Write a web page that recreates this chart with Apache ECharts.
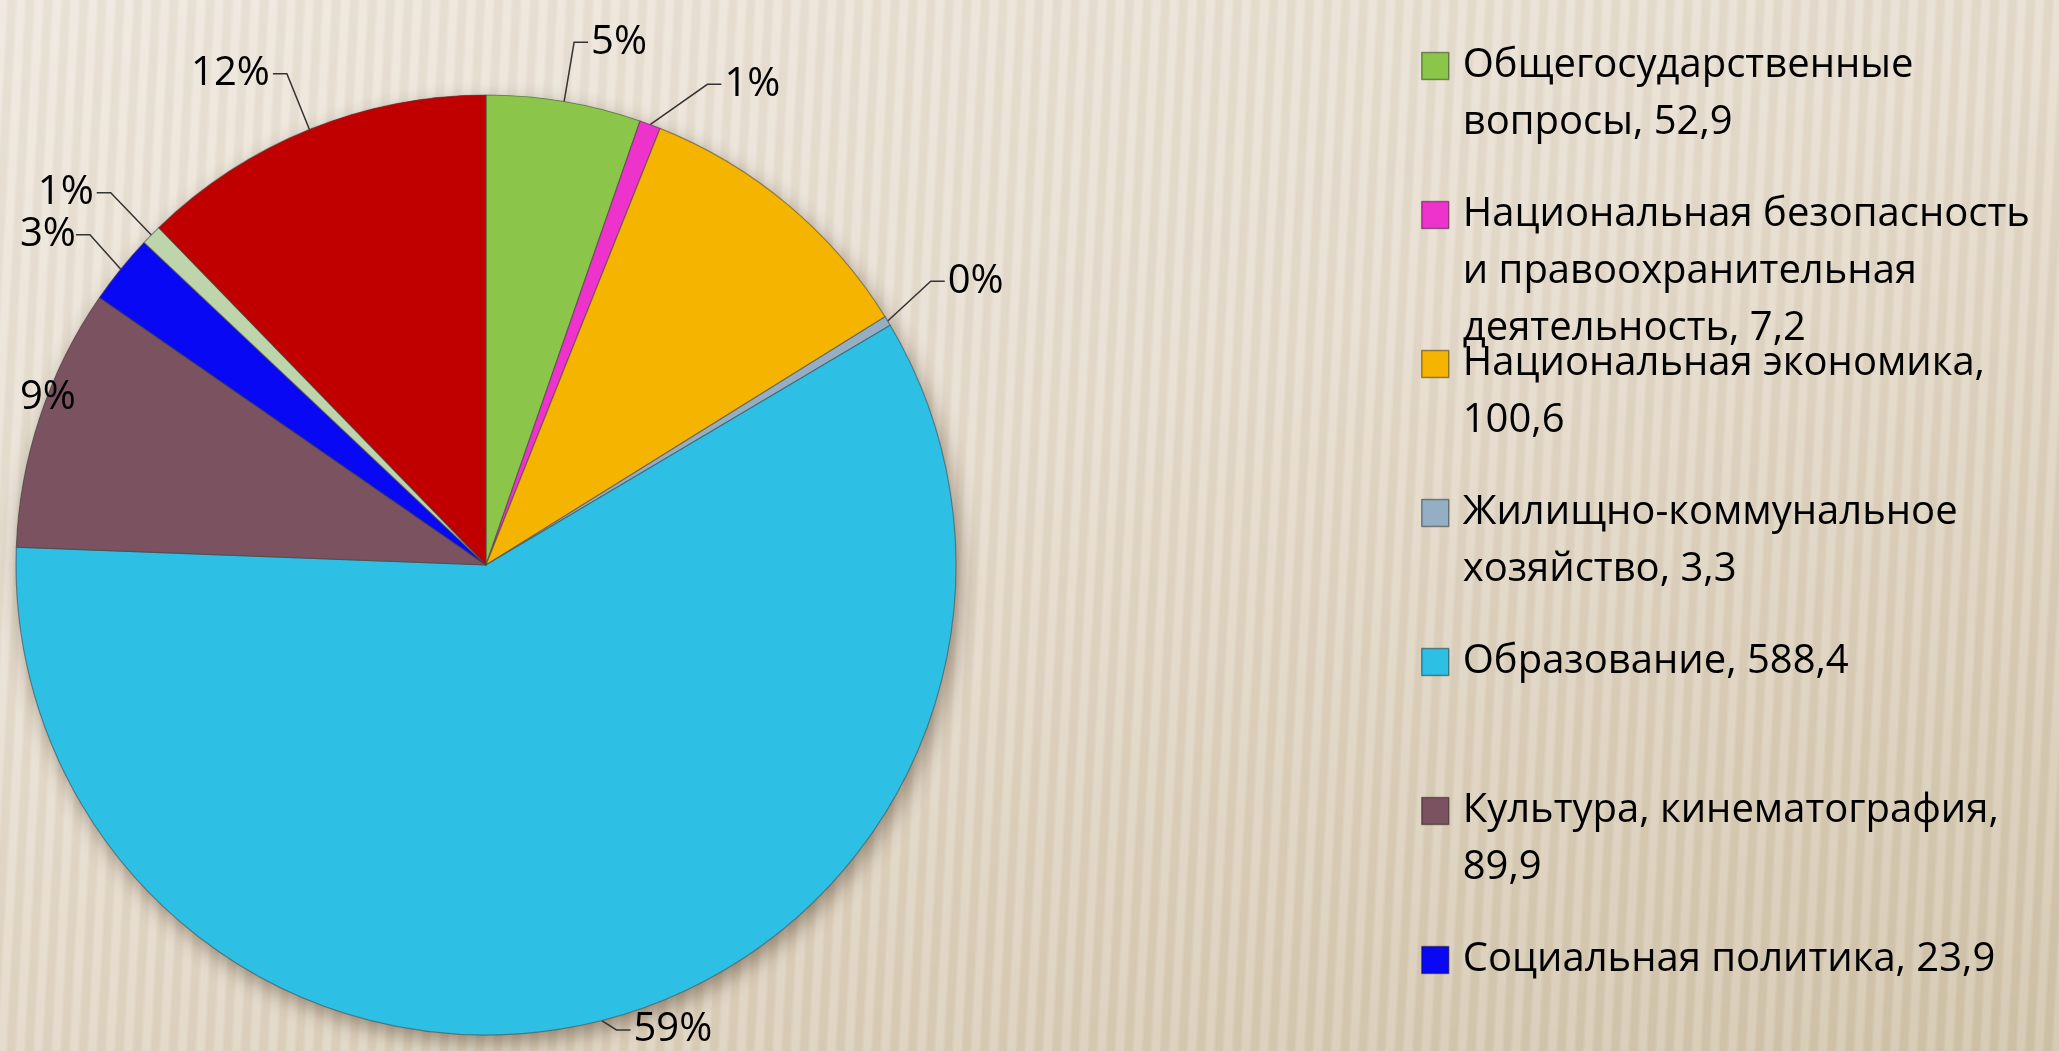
<!DOCTYPE html>
<html>
<head>
<meta charset="utf-8">
<script src="https://cdn.jsdelivr.net/npm/echarts@6/dist/echarts.min.js"></script>
<style>
html, body { margin: 0; padding: 0; }
body {
  width: 2059px; height: 1051px; overflow: hidden;
  background:
    repeating-linear-gradient(93deg, rgba(255,255,255,0.14) 0px, rgba(255,255,255,0.14) 6px, rgba(110,90,60,0.045) 9px, rgba(110,90,60,0.045) 15px, rgba(255,255,255,0.14) 18px),
    linear-gradient(160deg, #ede6dc 0%, #e6dccd 45%, #d1c3a9 100%);
}
#pie { width: 2059px; height: 1051px; }
</style>
</head>
<body>
<div id="pie"></div>
<script>
var names = [
  'Общегосударственные вопросы',
  'Национальная безопасность и правоохранительная деятельность',
  'Национальная экономика',
  'Жилищно-коммунальное хозяйство',
  'Образование',
  'Культура, кинематография',
  'Социальная политика',
  'Физическая культура и спорт',
  'Межбюджетные трансферты'
];
var values = [52.9, 7.2, 100.6, 3.3, 588.4, 89.9, 23.9, 7.0, 122.0];
var colors = ['#8BC64B', '#EE33CC', '#F4B400', '#94AFC4', '#2DBFE4', '#7A5260', '#0808F4', '#BED4AA', '#C00000'];
// legend in the picture is cut off after 7 entries
var legendNames = names.slice(0, 7);
// slices drawn without a percent label / without a leader line
var noLabel = ['Национальная экономика'];
var noLine = ['Культура, кинематография'];

var FONT = '"Open Sans", Roboto, sans-serif';
var LINE_H = 57;

function fmt(v) {
  return v.toFixed(1).replace('.', ',');
}

function wrap(text, maxChars) {
  var words = text.split(' '), lines = [], cur = '';
  words.forEach(function (w) {
    if (cur && (cur + ' ' + w).length > maxChars) {
      lines.push(cur);
      cur = w;
    } else {
      cur = cur ? cur + ' ' + w : w;
    }
  });
  lines.push(cur);
  return lines;
}

function pieData(withLabels) {
  return names.map(function (n, i) {
    var item = { name: n, value: values[i], itemStyle: { color: colors[i] } };
    if (withLabels && noLabel.indexOf(n) >= 0) {
      item.label = { show: false };
      item.labelLine = { show: false };
    }
    if (withLabels && noLine.indexOf(n) >= 0) {
      item.labelLine = { show: false };
    }
    return item;
  });
}

var chart = echarts.init(document.getElementById('pie'));
var option = {
  animation: false,
  legend: {
    orient: 'vertical',
    left: 1421,
    top: 66 - 2.5 * LINE_H,
    height: 1800,
    padding: 0,
    itemWidth: 27,
    itemHeight: 27,
    itemGap: 149 - 5 * LINE_H,
    icon: 'rect',
    selectedMode: false,
    data: legendNames,
    itemStyle: { borderColor: 'rgba(0,0,0,0.4)', borderWidth: 1.5 },
    textStyle: { fontSize: 40, lineHeight: LINE_H, color: '#000', fontFamily: FONT, padding: [0, 0, 0, 9] },
    formatter: function (name) {
      var v = values[names.indexOf(name)];
      var lines = wrap(name + ', ' + fmt(v), 26);
      // pad to 5 lines so the first line sits at the icon
      var tail = '';
      for (var k = lines.length; k < 3; k++) tail += '\n';
      return '\n\n' + lines.join('\n') + tail;
    }
  },
  series: [{
    type: 'pie',
    name: 'тень',
    silent: true,
    z: 1,
    center: [486, 565],
    radius: 470,
    startAngle: 90,
    clockwise: true,
    data: pieData(false),
    label: { show: false },
    labelLine: { show: false },
    itemStyle: {
      shadowBlur: 20,
      shadowColor: 'rgba(60,40,20,0.45)',
      shadowOffsetX: 4,
      shadowOffsetY: 8
    }
  }, {
    type: 'pie',
    name: 'Расходы',
    z: 2,
    center: [486, 565],
    radius: 470,
    startAngle: 90,
    clockwise: true,
    percentPrecision: 0,
    avoidLabelOverlap: true,
    data: pieData(true),
    label: {
      formatter: '{d}%',
      fontSize: 40,
      color: '#000',
      fontFamily: FONT,
      overflow: 'none',
      distanceToLabelLine: 3
    },
    labelLine: {
      length: 60,
      length2: 14,
      lineStyle: { color: '#333', width: 1.5 }
    },
    // keep labels inside the canvas
    labelLayout: function (p) {
      if (p.labelRect.x < 8) {
        return { x: 20, align: 'left' };
      }
    },
    itemStyle: { borderColor: 'rgba(70,70,70,0.55)', borderWidth: 1.2 },
    emphasis: { scale: false }
  }]
};
chart.setOption(option);
</script>
</body>
</html>
